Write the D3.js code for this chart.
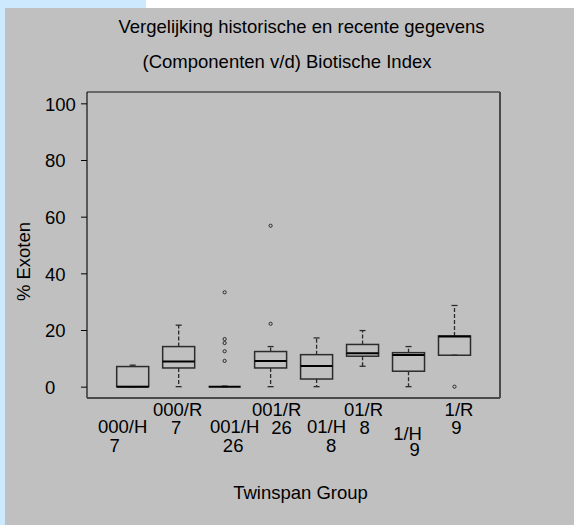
<!DOCTYPE html>
<html><head><meta charset="utf-8">
<script src="https://cdn.jsdelivr.net/npm/d3@7"></script>
<style>
html,body{margin:0;padding:0;background:#cde9fd;}
svg{display:block;}
text{font-family:"Liberation Sans",Arial,sans-serif;fill:#000;}
</style></head>
<body>
<script>
// ---- data ----
const groups = ["000/H","000/R","001/H","001/R","01/H","01/R","1/H","1/R"];
const counts = ["7","7","26","26","8","8","9","9"];
const lowWhisker  = [0, 0, 0, 0, 0, 7.2, 0, 11.1];
const q1          = [0, 6.6, 0, 6.6, 2.7, 10.75, 5.45, 11.1];
const medians     = [0, 8.85, 0, 9.1, 7.3, 11.8, 11.2, 17.7];
const q3          = [7.1, 14.15, 0, 12.4, 11.3, 14.9, 12.0, 17.9];
const highWhisker = [7.6, 21.7, 0.2, 14.15, 17.2, 19.8, 14.15, 28.65];
const outliers    = [[], [], [33.3, 16.8, 15.4, 12.5, 9.1], [22.2, 56.8], [], [], [], [0]];
const yTicks = [0, 20, 40, 60, 80, 100];
const titleLines = ["Vergelijking historische en recente gegevens", "(Componenten v/d) Biotische Index"];
const xTitle = "Twinspan Group";
const yTitle = "% Exoten";

// ---- layout ----
const W = 574, H = 525;
const plot = {left: 87, right: 500, top: 92, bottom: 398};
const labelDx1 = [-10, -1, 10, 6, 10, 1, -1, 4.5];
const labelDx2 = [-18, -2.5, 8.5, 11, 14.5, 2, 6, 2];

const svg = d3.select("body").append("svg").attr("width", W).attr("height", H);
svg.append("rect").attr("x", 146).attr("y", 0).attr("width", W - 146).attr("height", 8).attr("fill", "#ffffff");
svg.append("rect").attr("x", 5).attr("y", 8).attr("width", W - 5).attr("height", H - 8).attr("fill", "#c0c0c0");

const x = d3.scalePoint().domain(groups).range([132.7, 454.5]);
const y = d3.scaleLinear().domain([-4, 104]).range([plot.bottom, plot.top]);

// titles
svg.append("text").attr("x", 301.5).attr("y", 33).attr("text-anchor", "middle").style("font-size", "18.5px").text(titleLines[0]);
svg.append("text").attr("x", 287).attr("y", 68).attr("text-anchor", "middle").style("font-size", "18.5px").text(titleLines[1]);

// y axis
const yAxis = d3.axisLeft(y).tickValues(yTicks).tickSize(6).tickFormat(d3.format("d"));
const gy = svg.append("g").attr("transform", `translate(${plot.left},0)`).call(yAxis);
gy.select(".domain").remove();
gy.selectAll(".tick line").attr("stroke", "#000").attr("stroke-width", 1);
gy.selectAll(".tick text").attr("text-anchor", "start").attr("x", 45 - plot.left).attr("dy", "0.36em")
  .style("font-size", "18.5px").style("font-family", '"Liberation Sans",Arial,sans-serif').attr("fill", "#000");

svg.append("text").attr("transform", `translate(30,${261.5}) rotate(-90)`).attr("text-anchor", "middle")
  .style("font-size", "18.5px").text(yTitle);

// frame
svg.append("line").attr("x1", plot.left).attr("x2", plot.right).attr("y1", plot.top).attr("y2", plot.top).attr("stroke", "#111").attr("stroke-width", 1.2);
svg.append("line").attr("x1", plot.left).attr("x2", plot.left).attr("y1", plot.top).attr("y2", plot.bottom).attr("stroke", "#111").attr("stroke-width", 1.2);
svg.append("line").attr("x1", plot.right).attr("x2", plot.right).attr("y1", plot.top).attr("y2", plot.bottom).attr("stroke", "#4a4a4a").attr("stroke-width", 2);
svg.append("line").attr("x1", plot.left).attr("x2", plot.right).attr("y1", plot.bottom).attr("y2", plot.bottom).attr("stroke", "#4a4a4a").attr("stroke-width", 2);

// boxes
const bw = 32, cap = 6;
const data = groups.map((g, i) => ({g, i, lo: lowWhisker[i], q1: q1[i], med: medians[i], q3: q3[i], hi: highWhisker[i], out: outliers[i]}));
const gb = svg.append("g").selectAll("g").data(data).join("g");
const col = "#2b2b2b";
// whiskers
gb.append("line").attr("x1", d => x(d.g)).attr("x2", d => x(d.g)).attr("y1", d => y(d.q3)).attr("y2", d => y(d.hi))
  .attr("stroke", col).attr("stroke-width", 1.3).attr("stroke-dasharray", "4,2");
gb.append("line").attr("x1", d => x(d.g)).attr("x2", d => x(d.g)).attr("y1", d => y(d.q1)).attr("y2", d => y(d.lo))
  .attr("stroke", col).attr("stroke-width", 1.3).attr("stroke-dasharray", "4,2");
gb.append("line").attr("x1", d => x(d.g) - cap / 2).attr("x2", d => x(d.g) + cap / 2).attr("y1", d => y(d.hi)).attr("y2", d => y(d.hi))
  .attr("stroke", col).attr("stroke-width", 1.3);
gb.append("line").attr("x1", d => x(d.g) - cap / 2).attr("x2", d => x(d.g) + cap / 2).attr("y1", d => y(d.lo)).attr("y2", d => y(d.lo))
  .attr("stroke", col).attr("stroke-width", 1.3);
// box
gb.append("rect").attr("x", d => x(d.g) - bw / 2).attr("width", bw)
  .attr("y", d => y(d.q3)).attr("height", d => Math.max(0, y(d.q1) - y(d.q3)))
  .attr("fill", "none").attr("stroke", col).attr("stroke-width", 1.5);
// median
gb.append("line").attr("x1", d => x(d.g) - bw / 2).attr("x2", d => x(d.g) + bw / 2).attr("y1", d => y(d.med)).attr("y2", d => y(d.med))
  .attr("stroke", "#000").attr("stroke-width", 2);
// outliers
gb.selectAll("circle").data(d => d.out.map(v => ({g: d.g, v}))).join("circle")
  .attr("cx", d => x(d.g)).attr("cy", d => y(d.v)).attr("r", 1.6)
  .attr("fill", "none").attr("stroke", col).attr("stroke-width", 1);

// x labels (staggered, two lines)
const gl = svg.append("g");
groups.forEach((g, i) => {
  const isR = i % 2 === 1;
  const last = g === "1/H";
  const b1 = isR ? 416 : (last ? 440 : 433);
  const b2 = isR ? 434 : (last ? 456 : 452);
  gl.append("text").attr("x", x(g) + labelDx1[i]).attr("y", b1).attr("text-anchor", "middle").style("font-size", "18.5px").text(g);
  gl.append("text").attr("x", x(g) + labelDx2[i]).attr("y", b2).attr("text-anchor", "middle").style("font-size", "18.5px").text(counts[i]);
});

svg.append("text").attr("x", 300.5).attr("y", 499).attr("text-anchor", "middle").style("font-size", "18.5px").text(xTitle);
</script>
</body></html>
